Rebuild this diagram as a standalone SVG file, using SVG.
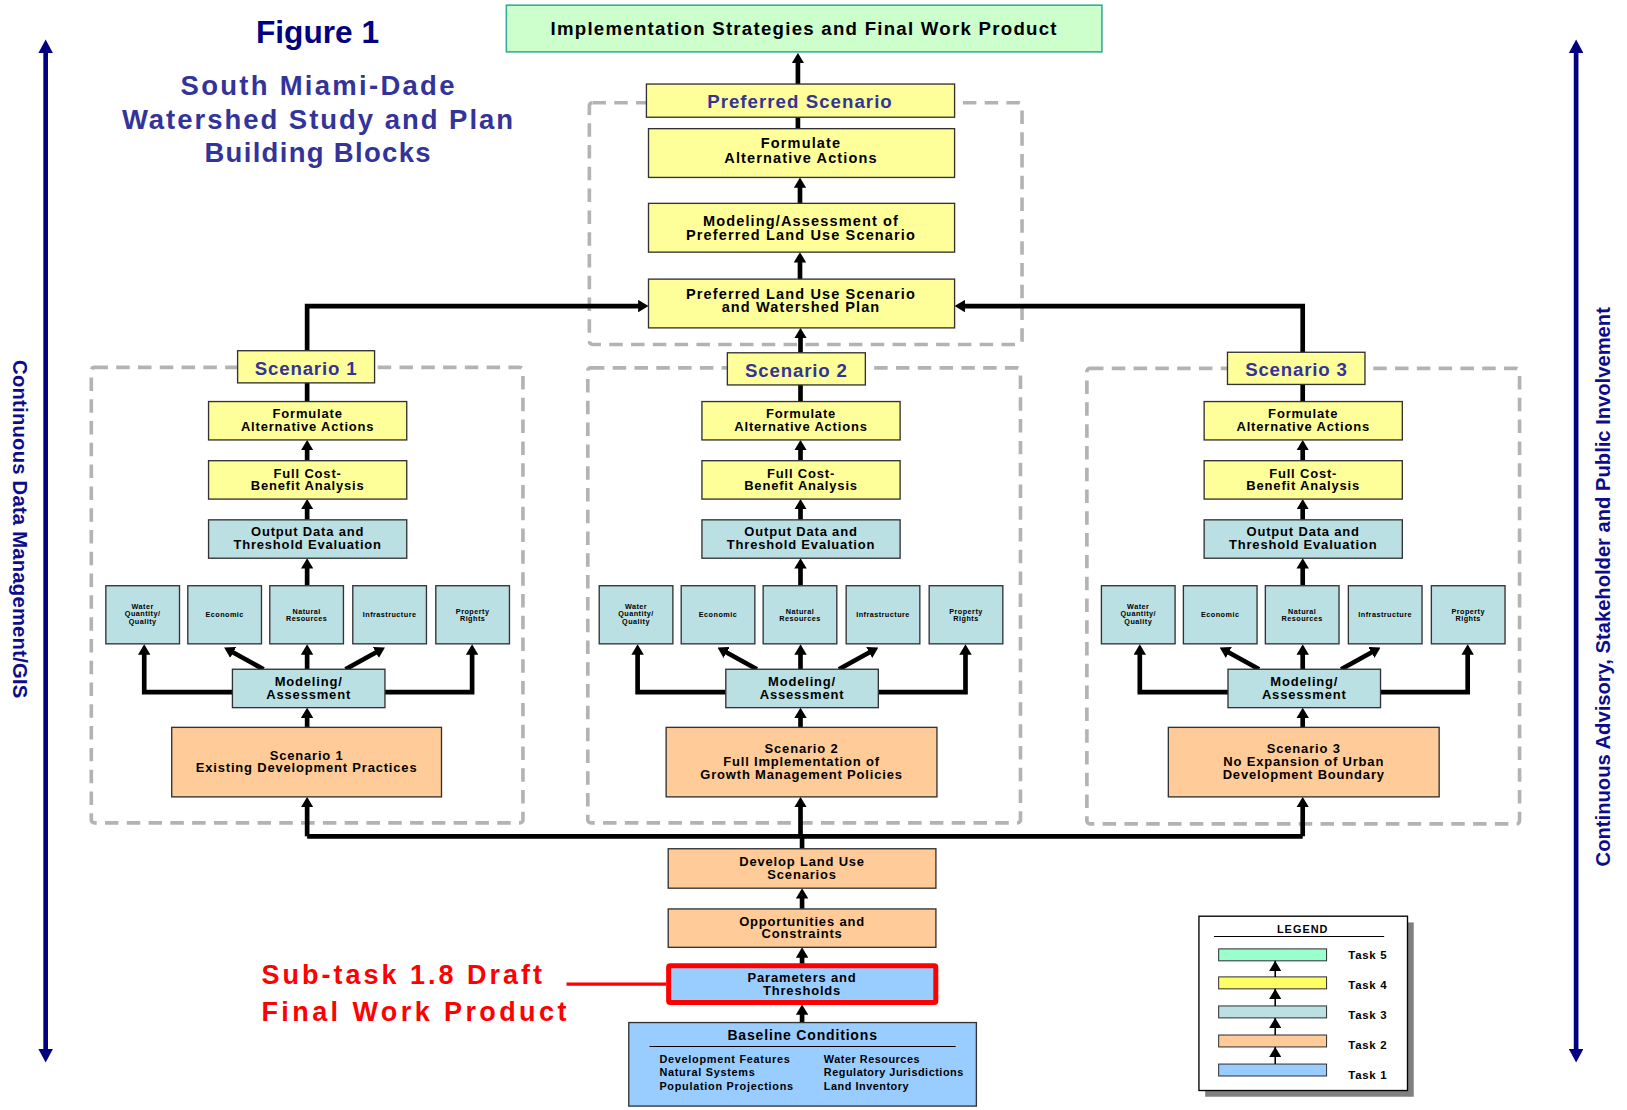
<svg xmlns="http://www.w3.org/2000/svg" width="1627" height="1110" viewBox="0 0 1627 1110">
<style>
.tx{font-family:"Liberation Sans",Arial,sans-serif;font-weight:bold;text-anchor:middle;fill:#000}
.f12{font-size:12.5px;letter-spacing:0.8px}
.f14{font-size:14px;letter-spacing:1.1px}
.sm{font-size:7px;letter-spacing:0.45px}
.lbl{font-size:18px;letter-spacing:0.8px;fill:#333399}
.y{fill:#ffff99;stroke:#333;stroke-width:1.3}
.c{fill:#bae0e3;stroke:#333;stroke-width:1.3}
.o{fill:#ffcc99;stroke:#333;stroke-width:1.3}
.bl{fill:#99ccff;stroke:#333;stroke-width:1.3}
.dash{fill:none;stroke:#b3b3b3;stroke-width:3.5;stroke-dasharray:13 8}
.conn path{fill:none;stroke:#000;stroke-width:4.5;stroke-linejoin:miter}
.arr{marker-end:url(#ah)}
.thin{fill:none;stroke:#000;stroke-width:1.5;marker-end:url(#ahs)}
.nav{fill:none;stroke:#000080;stroke-width:4.5;marker-end:url(#ahn);marker-start:url(#ahn)}
</style>
<defs>
<marker id="ah" markerUnits="userSpaceOnUse" markerWidth="10" markerHeight="12" viewBox="0 0 10 12" refX="1" refY="6" orient="auto"><path d="M0,0 L10,6 L0,12 z" fill="#000"/></marker>
<marker id="ahs" markerUnits="userSpaceOnUse" markerWidth="10" markerHeight="12" viewBox="0 0 10 12" refX="10" refY="6" orient="auto"><path d="M0,0 L10,6 L0,12 z" fill="#000"/></marker>
<marker id="ahn" markerUnits="userSpaceOnUse" markerWidth="13" markerHeight="14" viewBox="0 0 13 14" refX="1" refY="7" orient="auto-start-reverse"><path d="M0,0 L13,7 L0,14 z" fill="#000080"/></marker>
</defs>
<rect width="1627" height="1110" fill="#fff"/>
<g transform="scale(1.0376)">

<g id="title">
<text class="tx" x="306" y="41" style="font-size:30.5px;fill:#000080">Figure 1</text>
<text class="tx" x="306" y="92" style="font-size:26.5px;fill:#333399" textLength="264" lengthAdjust="spacing">South Miami-Dade</text>
<text class="tx" x="306" y="124" style="font-size:26.5px;fill:#333399" textLength="377" lengthAdjust="spacing">Watershed Study and Plan</text>
<text class="tx" x="306" y="156" style="font-size:26.5px;fill:#333399" textLength="218" lengthAdjust="spacing">Building Blocks</text>
</g>

<g id="side-left">
<path class="nav" d="M44,50 V1012"/>
<text class="tx" transform="translate(12.5,510) rotate(90)" style="font-size:19.5px;fill:#0d0d8c" textLength="326" lengthAdjust="spacing">Continuous Data Management/GIS</text>
</g>
<g id="side-right">
<path class="nav" d="M1519,50 V1012"/>
<text class="tx" transform="translate(1552,565.5) rotate(-90)" style="font-size:19.5px;fill:#0d0d8c" textLength="539" lengthAdjust="spacing">Continuous Advisory, Stakeholder and Public Involvement</text>
</g>

<g id="frames">
<rect class="dash" x="568" y="99" width="417" height="233" rx="3"/>
<rect class="dash" x="88" y="354" width="416" height="439" rx="3"/>
<rect class="dash" x="566.5" y="354.5" width="417" height="438.5" rx="3"/>
<rect class="dash" x="1047.5" y="355" width="417" height="439" rx="3"/>
</g>

<g id="connectors" class="conn">
<path class="arr" d="M769,81 V60"/>
<path d="M769,113 V124"/>
<path class="arr" d="M771,196 V180"/>
<path class="arr" d="M771,269 V252"/>
<path class="arr" d="M296,340 V295 H616"/>
<path class="arr" d="M1255.5,340 V295 H929"/>
<path class="arr" d="M771.5,340 V325"/>
<path d="M296,806 H1255.5"/>
<path d="M773,818 V806"/>
<path class="arr" d="M773,876 V865"/>
<path class="arr" d="M773,929 V922"/>
<path class="arr" d="M773,985 V977"/>
<g id="conn-s1">
<path d="M296,369 V387"/>
<path class="arr" d="M296,444 V433"/>
<path class="arr" d="M296,501 V490"/>
<path class="arr" d="M296,564 V547"/>
<path class="arr" d="M296,645 V630"/>
<path class="arr" d="M296,701 V691"/>
<path class="arr" d="M296,806 V777"/>
<path class="arr" d="M224,667 H139 V630"/>
<path class="arr" d="M371,667 H455 V630"/>
<path class="arr" d="M254,645 L223.9,628.4"/>
<path class="arr" d="M333,645 L363.1,628.4"/>
</g>
<g id="conn-s2" transform="translate(475.5,0)">
<path d="M296,371 V387"/>
<path class="arr" d="M296,444 V433"/>
<path class="arr" d="M296,501 V490"/>
<path class="arr" d="M296,564 V547"/>
<path class="arr" d="M296,645 V630"/>
<path class="arr" d="M296,701 V691"/>
<path class="arr" d="M296,806 V777"/>
<path class="arr" d="M224,667 H139 V630"/>
<path class="arr" d="M371,667 H455 V630"/>
<path class="arr" d="M254,645 L223.9,628.4"/>
<path class="arr" d="M333,645 L363.1,628.4"/>
</g>
<g id="conn-s3" transform="translate(959.5,0)">
<path d="M296,370 V387"/>
<path class="arr" d="M296,444 V433"/>
<path class="arr" d="M296,501 V490"/>
<path class="arr" d="M296,564 V547"/>
<path class="arr" d="M296,645 V630"/>
<path class="arr" d="M296,701 V691"/>
<path class="arr" d="M296,806 V777"/>
<path class="arr" d="M224,667 H139 V630"/>
<path class="arr" d="M371,667 H455 V630"/>
<path class="arr" d="M254,645 L223.9,628.4"/>
<path class="arr" d="M333,645 L363.1,628.4"/>
</g>
</g>

<g id="final-product">
<rect x="488" y="5" width="574" height="45" fill="#ccffcc" stroke="#33aa99" stroke-width="1.5"/>
<text class="tx" x="775" y="34" style="font-size:18px;letter-spacing:1.2px">Implementation Strategies and Final Work Product</text>
</g>
<g id="preferred-label">
<rect class="y" x="623" y="81" width="297" height="32"/>
<text class="tx lbl" x="771" y="104" style="letter-spacing:1px">Preferred Scenario</text>
</g>
<g id="pref-formulate">
<rect class="y" x="625" y="124" width="295" height="47"/>
<text class="tx f14" x="772"><tspan x="772" y="142.5">Formulate</tspan><tspan x="772" y="157">Alternative Actions</tspan></text>
</g>
<g id="pref-modeling">
<rect class="y" x="625" y="196" width="295" height="47"/>
<text class="tx f14" x="772"><tspan x="772" y="218">Modeling/Assessment of</tspan><tspan x="772" y="231">Preferred Land Use Scenario</tspan></text>
</g>
<g id="pref-landuse">
<rect class="y" x="625" y="269" width="295" height="47"/>
<text class="tx f14" x="772"><tspan x="772" y="288">Preferred Land Use Scenario</tspan><tspan x="772" y="301">and Watershed Plan</tspan></text>
</g>

<g id="scenario1">
<g id="s1-label"><rect class="y" x="229" y="338" width="132" height="31"/><text class="tx lbl" x="295" y="361">Scenario 1</text></g>
<g id="s1-formulate"><rect class="y" x="201" y="387" width="191" height="37"/><text class="tx f12"><tspan x="296.5" y="402.5">Formulate</tspan><tspan x="296.5" y="415.5">Alternative Actions</tspan></text></g>
<g id="s1-cost"><rect class="y" x="201" y="444" width="191" height="37"/><text class="tx f12"><tspan x="296.5" y="460.5">Full Cost-</tspan><tspan x="296.5" y="472.5">Benefit Analysis</tspan></text></g>
<g id="s1-output"><rect class="c" x="201" y="501" width="191" height="37"/><text class="tx f12"><tspan x="296.5" y="516.5">Output Data and</tspan><tspan x="296.5" y="529">Threshold Evaluation</tspan></text></g>
<g id="s1-water"><rect class="c" x="102" y="564.5" width="71" height="56"/><text class="tx sm"><tspan x="137.5" y="587">Water</tspan><tspan x="137.5" y="594">Quantity/</tspan><tspan x="137.5" y="601">Quality</tspan></text></g>
<g id="s1-econ"><rect class="c" x="181" y="564.5" width="71" height="56"/><text class="tx sm" x="216.5" y="594.5">Economic</text></g>
<g id="s1-natural"><rect class="c" x="260" y="564.5" width="71" height="56"/><text class="tx sm"><tspan x="295.5" y="591.5">Natural</tspan><tspan x="295.5" y="598.5">Resources</tspan></text></g>
<g id="s1-infra"><rect class="c" x="340" y="564.5" width="71" height="56"/><text class="tx sm" x="375.5" y="594.5">Infrastructure</text></g>
<g id="s1-property"><rect class="c" x="420" y="564.5" width="71" height="56"/><text class="tx sm"><tspan x="455.5" y="591.5">Property</tspan><tspan x="455.5" y="598.5">Rights</tspan></text></g>
<g id="s1-modeling"><rect class="c" x="224" y="645" width="147" height="37"/><text class="tx f12"><tspan x="297.5" y="661">Modeling/</tspan><tspan x="297.5" y="674">Assessment</tspan></text></g>
<g id="s1-scenario"><rect class="o" x="165.5" y="701" width="260" height="67"/><text class="tx f12"><tspan x="295.5" y="732.5">Scenario 1</tspan><tspan x="295.5" y="744.5">Existing Development Practices</tspan></text></g>
</g>

<g id="scenario2" transform="translate(475.5,0)">
<g id="s2-label"><rect class="y" x="225.5" y="340" width="133" height="31"/><text class="tx lbl" x="292" y="363">Scenario 2</text></g>
<g id="s2-formulate"><rect class="y" x="201" y="387" width="191" height="37"/><text class="tx f12"><tspan x="296.5" y="402.5">Formulate</tspan><tspan x="296.5" y="415.5">Alternative Actions</tspan></text></g>
<g id="s2-cost"><rect class="y" x="201" y="444" width="191" height="37"/><text class="tx f12"><tspan x="296.5" y="460.5">Full Cost-</tspan><tspan x="296.5" y="472.5">Benefit Analysis</tspan></text></g>
<g id="s2-output"><rect class="c" x="201" y="501" width="191" height="37"/><text class="tx f12"><tspan x="296.5" y="516.5">Output Data and</tspan><tspan x="296.5" y="529">Threshold Evaluation</tspan></text></g>
<g id="s2-water"><rect class="c" x="102" y="564.5" width="71" height="56"/><text class="tx sm"><tspan x="137.5" y="587">Water</tspan><tspan x="137.5" y="594">Quantity/</tspan><tspan x="137.5" y="601">Quality</tspan></text></g>
<g id="s2-econ"><rect class="c" x="181" y="564.5" width="71" height="56"/><text class="tx sm" x="216.5" y="594.5">Economic</text></g>
<g id="s2-natural"><rect class="c" x="260" y="564.5" width="71" height="56"/><text class="tx sm"><tspan x="295.5" y="591.5">Natural</tspan><tspan x="295.5" y="598.5">Resources</tspan></text></g>
<g id="s2-infra"><rect class="c" x="340" y="564.5" width="71" height="56"/><text class="tx sm" x="375.5" y="594.5">Infrastructure</text></g>
<g id="s2-property"><rect class="c" x="420" y="564.5" width="71" height="56"/><text class="tx sm"><tspan x="455.5" y="591.5">Property</tspan><tspan x="455.5" y="598.5">Rights</tspan></text></g>
<g id="s2-modeling"><rect class="c" x="224" y="645" width="147" height="37"/><text class="tx f12"><tspan x="297.5" y="661">Modeling/</tspan><tspan x="297.5" y="674">Assessment</tspan></text></g>
<g id="s2-scenario"><rect class="o" x="166.5" y="701" width="261" height="67"/><text class="tx f12"><tspan x="297" y="725.5">Scenario 2</tspan><tspan x="297" y="738">Full Implementation of</tspan><tspan x="297" y="750.5">Growth Management  Policies</tspan></text></g>
</g>

<g id="scenario3" transform="translate(959.5,0)">
<g id="s3-label"><rect class="y" x="223.5" y="339.5" width="132.5" height="31"/><text class="tx lbl" x="290" y="362.5">Scenario 3</text></g>
<g id="s3-formulate"><rect class="y" x="201" y="387" width="191" height="37"/><text class="tx f12"><tspan x="296.5" y="402.5">Formulate</tspan><tspan x="296.5" y="415.5">Alternative Actions</tspan></text></g>
<g id="s3-cost"><rect class="y" x="201" y="444" width="191" height="37"/><text class="tx f12"><tspan x="296.5" y="460.5">Full Cost-</tspan><tspan x="296.5" y="472.5">Benefit Analysis</tspan></text></g>
<g id="s3-output"><rect class="c" x="201" y="501" width="191" height="37"/><text class="tx f12"><tspan x="296.5" y="516.5">Output Data and</tspan><tspan x="296.5" y="529">Threshold Evaluation</tspan></text></g>
<g id="s3-water"><rect class="c" x="102" y="564.5" width="71" height="56"/><text class="tx sm"><tspan x="137.5" y="587">Water</tspan><tspan x="137.5" y="594">Quantity/</tspan><tspan x="137.5" y="601">Quality</tspan></text></g>
<g id="s3-econ"><rect class="c" x="181" y="564.5" width="71" height="56"/><text class="tx sm" x="216.5" y="594.5">Economic</text></g>
<g id="s3-natural"><rect class="c" x="260" y="564.5" width="71" height="56"/><text class="tx sm"><tspan x="295.5" y="591.5">Natural</tspan><tspan x="295.5" y="598.5">Resources</tspan></text></g>
<g id="s3-infra"><rect class="c" x="340" y="564.5" width="71" height="56"/><text class="tx sm" x="375.5" y="594.5">Infrastructure</text></g>
<g id="s3-property"><rect class="c" x="420" y="564.5" width="71" height="56"/><text class="tx sm"><tspan x="455.5" y="591.5">Property</tspan><tspan x="455.5" y="598.5">Rights</tspan></text></g>
<g id="s3-modeling"><rect class="c" x="224" y="645" width="147" height="37"/><text class="tx f12"><tspan x="297.5" y="661">Modeling/</tspan><tspan x="297.5" y="674">Assessment</tspan></text></g>
<g id="s3-scenario"><rect class="o" x="166.5" y="701" width="261" height="67"/><text class="tx f12"><tspan x="297" y="725.5">Scenario 3</tspan><tspan x="297" y="738">No Expansion of Urban</tspan><tspan x="297" y="750.5">Development Boundary</tspan></text></g>
</g>

<g id="develop">
<rect class="o" x="644" y="818" width="258" height="38"/>
<text class="tx f12"><tspan x="773" y="834.5">Develop Land Use</tspan><tspan x="773" y="847">Scenarios</tspan></text>
</g>
<g id="opportunities">
<rect class="o" x="644" y="876" width="258" height="37"/>
<text class="tx f12"><tspan x="773" y="892.5">Opportunities and</tspan><tspan x="773" y="904.5">Constraints</tspan></text>
</g>
<g id="parameters">
<rect x="644.4" y="930.8" width="257.5" height="35.4" fill="#99ccff" stroke="#ff0000" stroke-width="4.8" rx="1.5"/>
<text class="tx f12"><tspan x="773" y="946">Parameters and</tspan><tspan x="773" y="959">Thresholds</tspan></text>
</g>
<g id="baseline">
<rect class="bl" x="606" y="985.5" width="335" height="80.5"/>
<text class="tx" x="773.5" y="1002" style="font-size:13.5px;letter-spacing:0.8px">Baseline Conditions</text>
<line x1="626" y1="1008.5" x2="921" y2="1008.5" stroke="#000" stroke-width="1"/>
<text class="tx" style="font-size:10.5px;letter-spacing:0.7px;text-anchor:start"><tspan x="635.5" y="1024.5">Development Features</tspan><tspan x="635.5" y="1037.5">Natural Systems</tspan><tspan x="635.5" y="1050.5">Population Projections</tspan></text>
<text class="tx" style="font-size:10.5px;letter-spacing:0.5px;text-anchor:start"><tspan x="794" y="1024.5">Water Resources</tspan><tspan x="794" y="1037.5">Regulatory Jurisdictions</tspan><tspan x="794" y="1050.5">Land Inventory</tspan></text>
</g>

<g id="subtask-callout">
<line x1="546" y1="948.5" x2="642" y2="948.5" stroke="#ff0000" stroke-width="3"/>
<text class="tx" style="font-size:26px;fill:#ff0000;text-anchor:start"><tspan x="252" y="948.5" style="letter-spacing:2.9px">Sub-task 1.8 Draft</tspan><tspan x="252" y="984" style="letter-spacing:3.3px">Final Work Product</tspan></text>
</g>

<g id="legend">
<rect x="1161.5" y="889" width="201" height="168" fill="#808080"/>
<rect x="1155.5" y="883" width="201" height="168" fill="#fff" stroke="#000" stroke-width="1.3"/>
<text class="tx" x="1255.5" y="899" style="font-size:10.5px;letter-spacing:1px">LEGEND</text>
<line x1="1170" y1="902.5" x2="1334" y2="902.5" stroke="#000" stroke-width="1"/>
<rect x="1174.5" y="914.5" width="104" height="11.5" fill="#99ffcc" stroke="#333" stroke-width="1"/>
<rect x="1174.5" y="941.5" width="104" height="11.5" fill="#ffff66" stroke="#333" stroke-width="1"/>
<rect x="1174.5" y="969.5" width="104" height="11.5" fill="#bae0e3" stroke="#333" stroke-width="1"/>
<rect x="1174.5" y="997.5" width="104" height="11.5" fill="#ffcc99" stroke="#333" stroke-width="1"/>
<rect x="1174.5" y="1025.5" width="104" height="11.5" fill="#99ccff" stroke="#333" stroke-width="1"/>
<path class="thin" d="M1229,941.5 V926"/>
<path class="thin" d="M1229,969.5 V953"/>
<path class="thin" d="M1229,997.5 V981"/>
<path class="thin" d="M1229,1025.5 V1009"/>
<text class="tx" style="font-size:11px;letter-spacing:0.7px;text-anchor:start"><tspan x="1299.5" y="924.5">Task 5</tspan><tspan x="1299.5" y="953.5">Task 4</tspan><tspan x="1299.5" y="982.5">Task 3</tspan><tspan x="1299.5" y="1011">Task 2</tspan><tspan x="1299.5" y="1039.5">Task 1</tspan></text>
</g>

</g>
</svg>
